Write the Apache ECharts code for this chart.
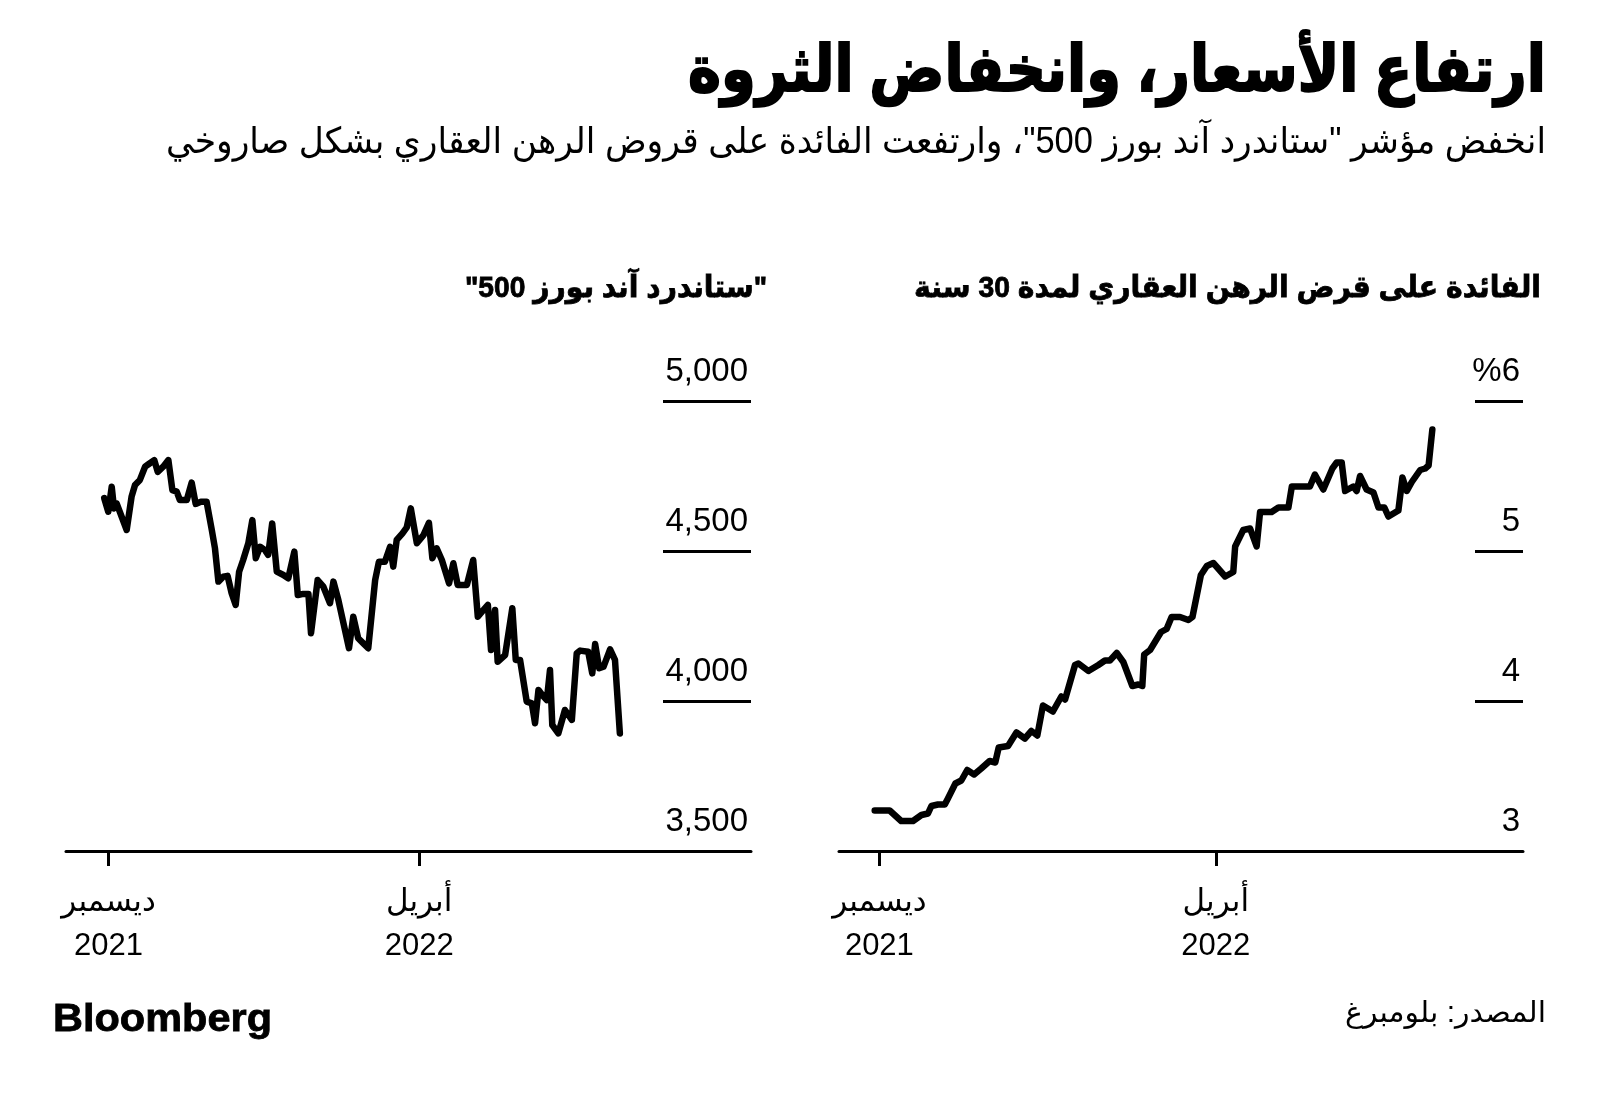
<!DOCTYPE html>
<html>
<head>
<meta charset="utf-8">
<script src="https://cdn.jsdelivr.net/npm/echarts@6/dist/echarts.min.js"></script>
<style>
html,body{margin:0;padding:0;background:#fff;}
#chart{width:1600px;height:1095px;}
</style>
</head>
<body>
<div id="chart"></div>
<script>
// ---------- data ----------
// days since first data point (13 Dec 2021)
const spxDays = [0,1.4,2.6,3.4,4.3,7.8,9.5,10.7,12.4,14.2,15.5,17.4,18.6,20.5,22.3,23.7,25.2,26.3,28.7,30.4,31.8,33.6,35.6,37.4,38.5,39.7,41.4,42.9,44.3,45.7,46.9,48.3,50.1,51.5,52.7,54.2,55.9,57.0,58.4,60.0,62.3,64.0,66.1,67.3,69.2,71.0,71.9,74.2,76.2,78.5,79.7,81.4,85.1,86.6,88.3,90.1,91.8,94.2,95.5,97.6,99.4,100.5,101.7,103.7,105.2,106.6,108.7,111.0,112.9,114.1,115.6,117.4,119.9,121.4,122.9,126.1,128.3,129.9,131.8,133.4,134.5,135.9,136.8,139.4,141.9,143.1,144.6,146.9,148.7,149.8,151.0,152.3,153.9,155.0,155.8,157.9,160.2,162.6,164.3,165.5,168.3,169.7,170.7,172.1,173.6,175.9,177.6,179.3];
const spxValues = [4676,4631,4714,4642,4659,4570,4681,4720,4737,4781,4790,4803,4764,4781,4803,4703,4698,4670,4670,4728,4657,4664,4664,4570,4509,4398,4414,4417,4359,4320,4431,4470,4526,4603,4476,4514,4503,4487,4592,4431,4420,4409,4498,4353,4357,4357,4226,4403,4381,4326,4398,4337,4176,4281,4209,4192,4176,4403,4464,4464,4514,4448,4537,4559,4579,4642,4526,4553,4594,4476,4509,4470,4392,4459,4387,4387,4470,4281,4303,4320,4170,4303,4131,4153,4309,4137,4137,3998,3992,3926,4037,4020,4003,4103,3920,3892,3970,3937,4159,4168,4164,4092,4190,4109,4114,4172,4137,3892];

const rateDays = [0,4.8,8.5,12.3,15.0,17.1,18.2,20.3,22.5,23.5,25.9,27.8,29.7,31.9,34.2,36.9,38.7,39.8,42.8,45.5,48.2,50.3,52.2,54.0,57.2,59.9,61.1,64.3,65.4,68.6,71.8,73.9,75.5,77.7,79.8,82.7,84.6,85.9,86.5,88.4,91.9,93.7,95.3,98.0,100.7,102.0,104.7,106.6,108.7,112.5,115.1,115.7,118.3,120.5,122.6,123.7,125.7,127.4,129.6,132.8,133.9,136.9,139.7,141.3,144.0,146.9,148.3,149.9,151.0,153.6,154.7,155.8,157.9,160.1,161.7,163.6,164.9,168.1,169.4,170.8,172.4,175.1,176.7,177.8,179.0];
const rateValues = [3.27,3.27,3.20,3.20,3.24,3.25,3.30,3.31,3.31,3.35,3.45,3.47,3.54,3.51,3.55,3.60,3.59,3.69,3.70,3.79,3.75,3.80,3.77,3.97,3.93,4.03,4.01,4.24,4.25,4.20,4.24,4.27,4.27,4.32,4.26,4.10,4.11,4.10,4.31,4.34,4.46,4.48,4.56,4.56,4.54,4.56,4.84,4.90,4.92,4.83,4.86,5.03,5.14,5.15,5.03,5.26,5.26,5.26,5.29,5.29,5.43,5.43,5.43,5.51,5.41,5.55,5.59,5.59,5.40,5.43,5.40,5.50,5.41,5.39,5.29,5.29,5.23,5.27,5.49,5.40,5.46,5.54,5.55,5.57,5.81];

const xTickDays = [1.5, 109.5];
const xTickLabels = ['ديسمبر\n2021', 'أبريل\n2022'];
const spxTickLabels = ['3,500', '4,000', '4,500', '5,000'];
const rateTickLabels = ['3', '4', '5', '%6'];

const RLM = '\u200F';
const titleText = 'ارتفاع الأسعار، وانخفاض الثروة';
const subtitleText = 'انخفض مؤشر "ستاندرد آند بورز 500"، وارتفعت الفائدة على قروض الرهن العقاري بشكل صاروخي';
const leftTitleText = '"ستاندرد آند بورز 500"';
const rightTitleText = 'الفائدة على قرض الرهن العقاري لمدة 30 سنة';
const sourceText = 'المصدر: بلومبرغ';
const logoText = 'Bloomberg';

// ---------- helpers ----------
const FONT = "'Liberation Sans', 'DejaVu Sans', sans-serif";
const mctx = document.createElement('canvas').getContext('2d');
function fit(text, size, weight, targetW) {
  mctx.font = weight + ' ' + size + 'px ' + FONT;
  const w = mctx.measureText(text).width;
  let s = targetW / w;
  return Math.max(0.6, Math.min(1.4, s));
}
function txt(text, x, y, size, weight, align, targetW, strokeW) {
  const t = RLM + text + RLM;
  const s = targetW ? fit(t, size, weight, targetW) : 1;
  const style = {
    text: t, fill: '#000',
    font: weight + ' ' + size + 'px ' + FONT,
    align: align, verticalAlign: 'middle',
    textAlign: align, textVerticalAlign: 'middle'
  };
  if (strokeW) { style.stroke = '#000'; style.lineWidth = strokeW; }
  return {type: 'text', x: x, y: y, scaleX: s, silent: true, style: style};
}

const chart = echarts.init(document.getElementById('chart'), null, {renderer: 'canvas'});

function xAxisCfg(gridIndex, min, max) {
  return {
    type: 'value', gridIndex: gridIndex, min: min, max: max,
    axisLine: {show: true, onZero: false, lineStyle: {color: '#000', width: 3}},
    axisTick: {show: true, customValues: xTickDays, length: 15, lineStyle: {color: '#000', width: 3}},
    axisLabel: {
      show: true, customValues: xTickDays, margin: 29,
      color: '#000', fontSize: 31, fontFamily: FONT, lineHeight: 44,
      align: 'center', verticalAlign: 'top',
      formatter: function (v) {
        let best = 0;
        for (let i = 0; i < xTickDays.length; i++) {
          if (Math.abs(xTickDays[i] - v) < Math.abs(xTickDays[best] - v)) best = i;
        }
        return xTickLabels[best];
      }
    },
    splitLine: {show: false}
  };
}
function yAxisCfg(gridIndex, min, max, interval, labels) {
  return {
    type: 'value', gridIndex: gridIndex, position: 'right',
    min: min, max: max, interval: interval,
    axisLine: {show: false},
    axisTick: {show: false},
    axisLabel: {
      show: true, inside: true, margin: 3, color: '#000',
      fontSize: 33, fontFamily: FONT, lineHeight: 58,
      verticalAlign: 'bottom',
      showMinLabel: true, showMaxLabel: true,
      formatter: function (v) {
        return labels[Math.round((v - min) / interval)];
      }
    },
    splitLine: {show: false}
  };
}
// short gridline segments: a narrow helper grid that shares the value scale
function gridSegAxis(gridIndex, min, max, interval) {
  return {
    type: 'value', gridIndex: gridIndex, min: min, max: max, interval: interval,
    axisLine: {show: false}, axisTick: {show: false}, axisLabel: {show: false},
    splitLine: {show: true, showMinLine: true, showMaxLine: true, lineStyle: {color: '#000', width: 3}}
  };
}
function hiddenX(gridIndex) {
  return {type: 'value', gridIndex: gridIndex, min: 0, max: 1, show: false};
}

const option = {
  animation: false,
  backgroundColor: '#fff',
  grid: [
    {left: 66, right: 849, top: 401, bottom: 244, containLabel: false},
    {left: 839, right: 77, top: 401, bottom: 244, containLabel: false},
    {left: 663, right: 849, top: 401, bottom: 244, containLabel: false},
    {left: 1475, right: 77, top: 401, bottom: 244, containLabel: false}
  ],
  xAxis: [xAxisCfg(0, -13.3, 224.9), xAxisCfg(1, -11.46, 208.1), hiddenX(2), hiddenX(3)],
  yAxis: [
    yAxisCfg(0, 3500, 5000, 500, spxTickLabels),
    yAxisCfg(1, 3, 6, 1, rateTickLabels),
    gridSegAxis(2, 3500, 5000, 500),
    gridSegAxis(3, 3, 6, 1)
  ],
  series: [
    {
      type: 'line', xAxisIndex: 0, yAxisIndex: 0, showSymbol: false, symbol: 'none',
      data: spxDays.map((d, i) => [d, spxValues[i]]),
      lineStyle: {color: '#000', width: 6.5, join: 'round', cap: 'round'}
    },
    {
      type: 'line', xAxisIndex: 1, yAxisIndex: 1, showSymbol: false, symbol: 'none',
      data: rateDays.map((d, i) => [d, rateValues[i]]),
      lineStyle: {color: '#000', width: 6.5, join: 'round', cap: 'round'}
    }
  ],
  graphic: [
    txt(titleText, 1546, 73, 64, 'bold', 'right', 858, 2),
    txt(subtitleText, 1546, 143, 36, 'normal', 'right', 1380),
    txt(leftTitleText, 767, 289, 30, 'bold', 'right', 302, 0.8),
    txt(rightTitleText, 1541, 289, 30, 'bold', 'right', 627, 0.8),
    txt(sourceText, 1546, 1014, 29, 'normal', 'right', 201),
    {
      type: 'text', x: 53, y: 1020, silent: true,
      scaleX: fit(logoText, 39, 'bold', 219),
      style: {text: logoText, fill: '#000', font: "bold 39px 'Liberation Sans', sans-serif",
        stroke: '#000', lineWidth: 0.8,
        align: 'left', verticalAlign: 'middle', textAlign: 'left', textVerticalAlign: 'middle'}
    }
  ]
};
chart.setOption(option);
</script>
</body>
</html>
